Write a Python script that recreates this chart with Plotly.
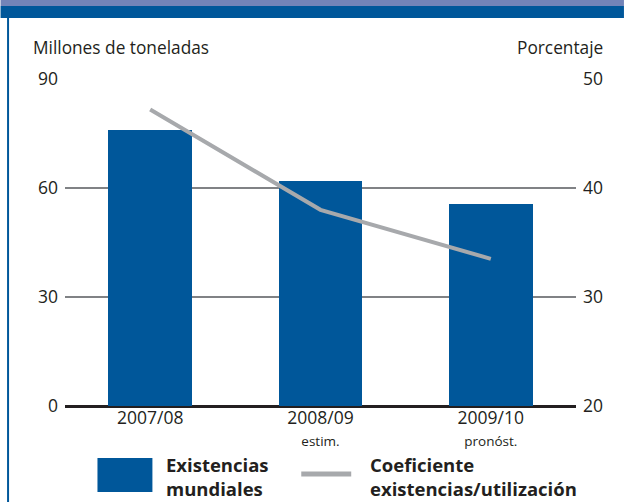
import plotly.graph_objects as go

categories = ["2007/08", "2008/09", "2009/10"]
sub_labels = ["", "estim.", "pronóst."]
stocks = [76, 62, 55.5]
ratio = [47.2, 38.0, 33.5]
left_ticks = [0, 30, 60, 90]
right_ticks = [20, 30, 40, 50]

BLUE = "#00579a"
GRAY_LINE = "#a7a9ac"
GRID = "#808285"
TEXT = "#231f20"
FONT = "Open Sans"

W, H = 624, 502
L, R, T, B = 64.5, 48, 79, 96
PW, PH = W - L - R, H - T - B


def px(x):
    return (x - L) / PW


def py(y):
    return (H - B - y) / PH


ticktext = [c if not s else f"{c}<br><span style='font-size:13.5px'>{s}</span>" for c, s in zip(categories, sub_labels)]

fig = go.Figure()
fig.add_trace(go.Bar(x=categories, y=stocks, marker=dict(color=BLUE, line=dict(width=0)),
                     width=0.493, showlegend=False, hoverinfo="skip"))
fig.add_trace(go.Scatter(x=categories, y=ratio, yaxis="y2", mode="lines",
                         line=dict(color=GRAY_LINE, width=4), showlegend=False,
                         hoverinfo="skip"))

fig.update_layout(
    width=W, height=H,
    margin=dict(l=L, r=R, t=T, b=B, pad=0),
    paper_bgcolor="white", plot_bgcolor="white",
    font=dict(family=FONT, size=17, color=TEXT),
    xaxis=dict(tickmode="array", tickvals=categories, ticktext=ticktext,
               range=[-0.5, 2.5], showgrid=False, showline=False, ticks="",
               ticklabelstandoff=-1, tickfont=dict(size=17.5)),
    yaxis=dict(range=[0, 90], tickvals=left_ticks, showgrid=True, gridcolor=GRID,
               gridwidth=2, zeroline=True, zerolinecolor=TEXT, zerolinewidth=3,
               ticks="", ticklabelstandoff=6, tickfont=dict(size=17.5)),
    yaxis2=dict(range=[20, 50], tickvals=right_ticks, overlaying="y", side="right",
                showgrid=False, zeroline=False, ticks="", ticklabelstandoff=6,
                tickfont=dict(size=17.5)),
    bargap=0,
)

shapes = [
    dict(type="rect", xref="paper", yref="paper", x0=px(0), x1=px(W), y0=py(0), y1=py(6),
         fillcolor="#7384b8", line=dict(width=0), layer="above"),
    dict(type="rect", xref="paper", yref="paper", x0=px(0), x1=px(W), y0=py(6), y1=py(18),
         fillcolor=BLUE, line=dict(width=0), layer="above"),
    dict(type="line", xref="paper", yref="paper", x0=px(7.5), x1=px(7.5), y0=py(18), y1=py(H),
         line=dict(color=BLUE, width=2)),
    # legend swatches
    dict(type="rect", xref="paper", yref="paper", x0=px(97), x1=px(152), y0=py(458), y1=py(492),
         fillcolor=BLUE, line=dict(width=0)),
    dict(type="line", xref="paper", yref="paper", x0=px(301), x1=px(351), y0=py(474), y1=py(474),
         line=dict(color=GRAY_LINE, width=5)),
]

annotations = [
    dict(text="Millones de toneladas", xref="paper", yref="paper", x=px(30), y=py(47),
         xanchor="left", yanchor="middle", showarrow=False, font=dict(size=17.3)),
    dict(text="Porcentaje", xref="paper", yref="paper", x=px(605), y=py(47),
         xanchor="right", yanchor="middle", showarrow=False, font=dict(size=17.3)),
    dict(text="<b>Existencias<br>mundiales</b>", xref="paper", yref="paper", x=px(164), y=py(476),
         xanchor="left", yanchor="middle", align="left", showarrow=False,
         font=dict(size=18.5)),
    dict(text="<b>Coeficiente<br>existencias/utilización</b>", xref="paper", yref="paper",
         x=px(368), y=py(476), xanchor="left", yanchor="middle", align="left",
         showarrow=False, font=dict(size=18.5)),
]

fig.update_layout(shapes=shapes, annotations=annotations)
fig.write_html("out.html", config={"displayModeBar": False},
               post_script="document.body.style.margin='0px';")
